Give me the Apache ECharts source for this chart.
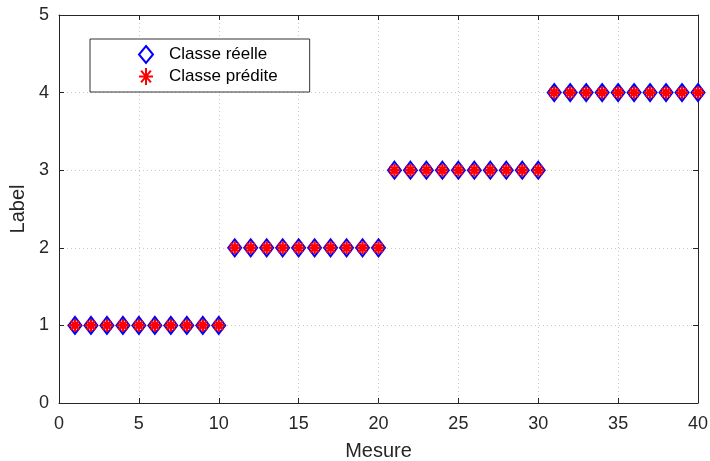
<!DOCTYPE html>
<html>
<head>
<meta charset="utf-8">
<script src="https://cdn.jsdelivr.net/npm/echarts@6/dist/echarts.min.js"></script>
<style>html,body{margin:0;padding:0;background:#fff;overflow:hidden;}#c{width:710px;height:461px;}</style>
</head>
<body>
<div id="c"></div>
<script>
const mesure = [1,2,3,4,5,6,7,8,9,10,11,12,13,14,15,16,17,18,19,20,21,22,23,24,25,26,27,28,29,30,31,32,33,34,35,36,37,38,39,40];
const classeReelle = [1,1,1,1,1,1,1,1,1,1,2,2,2,2,2,2,2,2,2,2,3,3,3,3,3,3,3,3,3,3,4,4,4,4,4,4,4,4,4,4];
const classePredite = [1,1,1,1,1,1,1,1,1,1,2,2,2,2,2,2,2,2,2,2,3,3,3,3,3,3,3,3,3,3,4,4,4,4,4,4,4,4,4,4];
const xTicks = [0,5,10,15,20,25,30,35,40];
const yTicks = [0,1,2,3,4,5];
const seriesNames = ['Classe réelle', 'Classe prédite'];

const FONT = '"Liberation Sans", Arial, Helvetica, sans-serif';
const AX = '#262626';
const asterisk = 'path://M0,-5L0,5M-5,0L5,0M-3.5,-3.5L3.5,3.5M-3.5,3.5L3.5,-3.5';

const chart = echarts.init(document.getElementById('c'), null, {renderer: 'canvas', width: 710, height: 461});
const axisCommon = {
  axisLine: {show: true, onZero: false, lineStyle: {color: AX, width: 1}},
  axisTick: {show: true, inside: true, length: 5, lineStyle: {color: AX}},
  splitLine: {show: false}
};
chart.setOption({
  animation: false,
  backgroundColor: '#fff',
  textStyle: {fontFamily: FONT},
  grid: {left: 59, right: 12, top: 15, bottom: 58, containLabel: false, outerBoundsMode: 'none'},
  legend: {
    orient: 'vertical',
    left: 90, top: 39,
    padding: [6, 32, 6, 48],
    itemGap: 3,
    itemWidth: 14, itemHeight: 17,
    symbolKeepAspect: false,
    backgroundColor: '#fff',
    borderColor: '#333',
    borderWidth: 1,
    borderRadius: 0,
    textStyle: {fontSize: 17, color: '#000', fontFamily: FONT, padding: [0, 0, 0, 11]},
    data: seriesNames
  },
  xAxis: [
    Object.assign({}, axisCommon, {
      type: 'value', min: 0, max: 40, interval: 5, position: 'bottom',
      name: 'Mesure', nameLocation: 'middle', nameGap: 38,
      nameTextStyle: {fontSize: 20, color: AX, fontFamily: FONT},
      axisLabel: {fontSize: 18, color: AX, margin: 12, fontFamily: FONT,
        formatter: v => xTicks.includes(v) ? String(v) : ''},
      splitLine: {show: true, lineStyle: {type: [1, 3], color: '#c8c8c8', width: 1}}
    }),
    Object.assign({}, axisCommon, {
      type: 'value', min: 0, max: 40, interval: 5, position: 'top',
      axisLabel: {show: false}
    })
  ],
  yAxis: [
    Object.assign({}, axisCommon, {
      type: 'value', min: 0, max: 5, interval: 1, position: 'left',
      name: 'Label', nameLocation: 'middle', nameGap: 24,
      nameTextStyle: {fontSize: 20, color: AX, fontFamily: FONT},
      axisLabel: {fontSize: 18, color: AX, margin: 10, fontFamily: FONT,
        formatter: v => yTicks.includes(v) ? String(v) : ''},
      splitLine: {show: true, lineStyle: {type: [1, 3], color: '#c8c8c8', width: 1}}
    }),
    Object.assign({}, axisCommon, {
      type: 'value', min: 0, max: 5, interval: 1, position: 'right',
      axisLabel: {show: false}
    })
  ],
  series: [
    {
      name: seriesNames[0], type: 'scatter',
      symbol: 'diamond', symbolSize: [13, 17],
      itemStyle: {color: '#fff', borderColor: '#0000ff', borderWidth: 2, opacity: 1},
      data: mesure.map((m, i) => [m, classeReelle[i]]),
      z: 2
    },
    {
      name: seriesNames[1], type: 'scatter',
      symbol: asterisk, symbolSize: [12, 13],
      itemStyle: {color: 'rgba(0,0,0,0)', borderColor: '#ff0000', borderWidth: 2.5, opacity: 1},
      data: mesure.map((m, i) => [m, classePredite[i]]),
      z: 3
    }
  ]
});
</script>
</body>
</html>
